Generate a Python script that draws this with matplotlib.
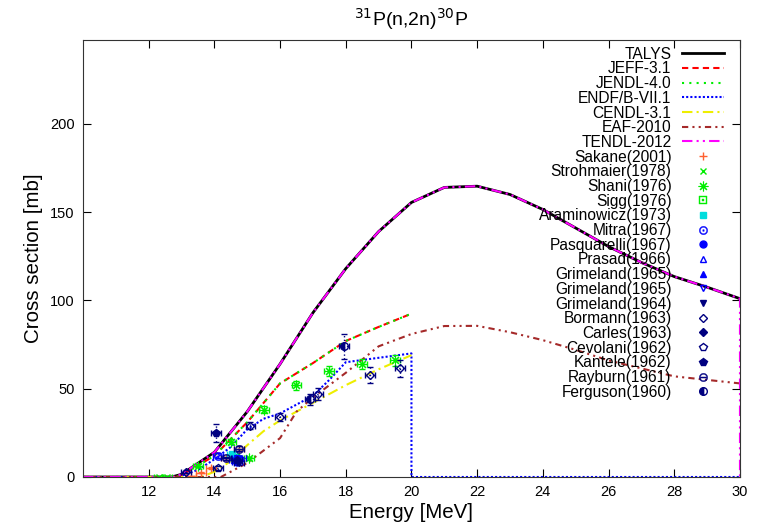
import numpy as np
import matplotlib.pyplot as plt

plt.rcParams['font.family'] = ['Liberation Sans', 'DejaVu Sans']

# evaluated cross sections (mb) vs neutron energy (MeV)
talys_e = [10, 12, 12.7, 13, 14, 15, 16, 17, 18, 19, 20, 21, 22, 23, 24, 25, 26, 27, 28, 29, 30]
talys_s = [0, 0, 0, 1.5, 14, 37, 64, 93, 118, 139, 155.5, 164, 164.7, 160, 151.5, 141, 130.5, 121.5, 113.5, 107.5, 101]

jeff_e = [10, 12, 12.8, 13, 14, 15, 16, 17, 18, 19, 20]
jeff_s = [0, 0, 0, 1, 12, 31, 53, 64.5, 77, 85, 92.5]

jendl_e = jeff_e
jendl_s = jeff_s

endf_e = [10, 12, 12.9, 13.5, 14, 14.5, 15, 15.5, 16, 16.5, 17, 17.5, 18, 19, 20, 20, 30]
endf_s = [0, 0, 0, 4, 10, 17, 27, 33, 36, 41, 46, 55, 65, 67.5, 70, 0, 0]

cendl_e = [10, 12, 13.6, 14, 14.5, 15, 15.5, 16, 17, 18, 19, 20]
cendl_s = [0, 0, 0, 3, 9, 18, 26, 32, 42, 52, 61, 69]

eaf_e = [10, 12, 14.2, 15, 16, 16.5, 17, 18, 19, 20, 21, 22, 23, 24, 25, 26, 27, 28, 29, 30]
eaf_s = [0, 0, 0, 8, 22, 37, 45, 59, 74, 81, 85.5, 85.6, 82, 77.5, 72, 66, 61.5, 57, 55, 53]

tendl_e = talys_e + [30]
tendl_s = talys_s + [0]

# measurements: energy, cross section, uncertainty
sakane_e = [13.3, 13.6, 13.9, 14.35, 14.75]
sakane_s = [0.5, 2.5, 5.0, 10.5, 16.0]
sakane_d = [0.3, 0.5, 0.7, 1.0, 1.5]

strohmaier_e = [12.3, 12.55]
strohmaier_s = [0.1, 0.2]
strohmaier_d = [0.1, 0.1]

shani_e = [13.5, 14.5, 15.05, 15.5, 16.5, 17.5, 18.5, 19.5]
shani_s = [6.5, 20, 10.5, 38, 52, 60, 64, 66]
shani_d = [0.8, 1.5, 1.0, 2.0, 2.5, 3.0, 3.0, 3.0]

sigg_e = [14.65]
sigg_s = [11]
sigg_d = [1]

araminowicz_e = [14.55]
araminowicz_s = [13]
araminowicz_d = [1]

mitra_e = [14.1]
mitra_s = [12]
mitra_d = [1.5]

pasquarelli_e = [14.7]
pasquarelli_s = [8.5]
pasquarelli_d = [1]

prasad_e = [14.8]
prasad_s = [10.5]
prasad_d = [1]

grimeland65a_e = [14.6]
grimeland65a_s = [9.5]
grimeland65a_d = [1]

grimeland65b_e = [14.7]
grimeland65b_s = [11]
grimeland65b_d = [1]

grimeland64_e = [14.75]
grimeland64_s = [8]
grimeland64_d = [1]

bormann_e = [13.15, 15.1, 16.0, 17.15, 18.75, 19.65]
bormann_s = [3, 29, 34, 47, 58, 61.5]
bormann_d = [1, 2, 2.5, 3.5, 4.5, 5]

carles_e = [14.7]
carles_s = [9.5]
carles_d = [1]

cevolani_e = [14.1]
cevolani_s = [5]
cevolani_d = [1]

kantele_e = [14.05]
kantele_s = [25]
kantele_d = [5]

rayburn_e = [14.35, 14.75]
rayburn_s = [10.5, 16]
rayburn_d = [1, 1.5]

ferguson_e = [16.9, 17.95]
ferguson_s = [44, 74]
ferguson_d = [3, 7]

fig = plt.figure(figsize=(7.68, 5.31), dpi=100)
ax = fig.add_axes([0.108, 0.1017, 0.8555, 0.823])

ax.plot(talys_e, talys_s, color='black', lw=2, label='TALYS')
ax.plot(jeff_e, jeff_s, color='red', lw=1.5, dashes=(3, 2), label='JEFF-3.1')
ax.plot(jendl_e, jendl_s, color='#00ee00', lw=1.5, dashes=(1, 2.5), label='JENDL-4.0')
ax.plot(endf_e, endf_s, color='blue', lw=1.5, dashes=(1, 1), label='ENDF/B-VII.1')
ax.plot(cendl_e, cendl_s, color='#eeee00', lw=1.5, dashes=(5, 2, 1, 2), label='CENDL-3.1')
ax.plot(eaf_e, eaf_s, color='#a52a2a', lw=1.5, dashes=(3, 2, 1, 2, 1, 2), label='EAF-2010')
ax.plot(tendl_e, tendl_s, color='magenta', lw=1.5, dashes=(5, 2, 1, 2, 1, 2), label='TENDL-2012')

points = [
    ('Sakane(2001)', sakane_e, sakane_s, sakane_d, '#ff6030', dict(marker='+', ms=6)),
    ('Strohmaier(1978)', strohmaier_e, strohmaier_s, strohmaier_d, '#00ee00', dict(marker='x', ms=5)),
    ('Shani(1976)', shani_e, shani_s, shani_d, '#00ee00', dict(marker=(8, 2, 0), ms=7, mew=0.8)),
    ('Sigg(1976)', sigg_e, sigg_s, sigg_d, '#00ee00', dict(marker=r'$\boxdot$', ms=6, mew=0.3)),
    ('Araminowicz(1973)', araminowicz_e, araminowicz_s, araminowicz_d, '#00dddd', dict(marker='s', ms=5)),
    ('Mitra(1967)', mitra_e, mitra_s, mitra_d, 'blue', dict(marker=r'$\odot$', ms=6, mew=0.3)),
    ('Pasquarelli(1967)', pasquarelli_e, pasquarelli_s, pasquarelli_d, 'blue', dict(marker='o', ms=5)),
    ('Prasad(1966)', prasad_e, prasad_s, prasad_d, 'blue', dict(marker='^', ms=5, mfc='none')),
    ('Grimeland(1965)', grimeland65a_e, grimeland65a_s, grimeland65a_d, 'blue', dict(marker='^', ms=5)),
    ('Grimeland(1965)', grimeland65b_e, grimeland65b_s, grimeland65b_d, 'blue', dict(marker='v', ms=5, mfc='none')),
    ('Grimeland(1964)', grimeland64_e, grimeland64_s, grimeland64_d, 'navy', dict(marker='v', ms=5)),
    ('Bormann(1963)', bormann_e, bormann_s, bormann_d, 'navy', dict(marker='D', ms=4.5, mfc='none')),
    ('Carles(1963)', carles_e, carles_s, carles_d, 'navy', dict(marker='D', ms=4.5)),
    ('Cevolani(1962)', cevolani_e, cevolani_s, cevolani_d, 'navy', dict(marker='p', ms=5.5, mfc='none')),
    ('Kantele(1962)', kantele_e, kantele_s, kantele_d, 'navy', dict(marker='p', ms=5.5)),
    ('Rayburn(1961)', rayburn_e, rayburn_s, rayburn_d, 'navy', dict(marker=r'$\ominus$', ms=6, mew=0.3)),
    ('Ferguson(1960)', ferguson_e, ferguson_s, ferguson_d, 'navy', dict(marker='o', ms=5.5, fillstyle='left')),
]

for label, e, s, d, c, style in points:
    eb = ax.errorbar(e, s, yerr=d, xerr=0.15, fmt='none', ecolor=c, elinewidth=1,
                     capsize=2.5, capthick=1)
    for col in eb[2]:
        col.set_linestyle(':')
    style.setdefault('mew', 1)
    ax.plot(e, s, ls='none', color=c, label=label, **style)

ax.set_xlim(10, 30)
ax.set_ylim(0, 247.5)
ax.set_xticks(np.arange(12, 31, 2))
ax.set_yticks(np.arange(0, 201, 50))
ax.tick_params(direction='in', length=6, top=True, right=True, labelsize=10.5, pad=6)
for sp in ax.spines.values():
    sp.set_color('#333333')

ax.set_xlabel('Energy [MeV]', fontsize=14.8, labelpad=3)
ax.set_ylabel('Cross section [mb]', fontsize=14.8, labelpad=5)
ax.set_title(r'$^{31}$P(n,2n)$^{30}$P', fontsize=14, pad=10)

ax.legend(loc='upper right', bbox_to_anchor=(1.0, 1.02), frameon=False,
          markerfirst=False, fontsize=11.2, handlelength=2.7, handletextpad=0.7,
          labelspacing=-0.02, numpoints=1, borderaxespad=0.8, borderpad=0.2)

fig.savefig('out.png', dpi=100)
